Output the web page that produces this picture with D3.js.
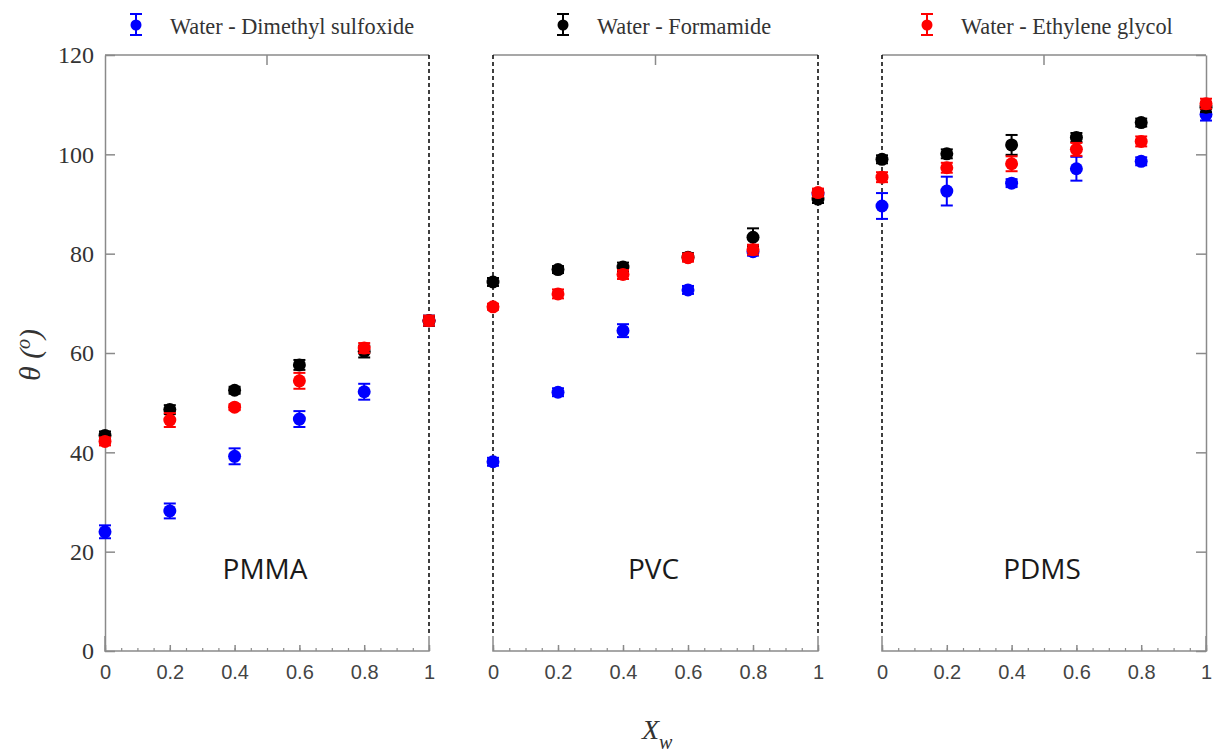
<!DOCTYPE html>
<html><head><meta charset="utf-8">
<script src="https://cdn.jsdelivr.net/npm/d3@7/dist/d3.min.js"></script>
<style>body{margin:0;background:#fff}svg{display:block}</style>
</head><body><svg id="c" width="1217" height="753"></svg>
<script>
// ---- data ----
const xValues = [0, 0.2, 0.4, 0.6, 0.8, 1];
const xTickLabels = ["0", "0.2", "0.4", "0.6", "0.8", "1"];
const yTicks = [0, 20, 40, 60, 80, 100, 120];
const panelNames = ["PMMA", "PVC", "PDMS"];
const seriesNames = ["Water - Dimethyl sulfoxide", "Water - Formamide", "Water - Ethylene glycol"];
const seriesColors = ["#0000ff", "#000000", "#ff0000"];

// values per panel [PMMA, PVC, PDMS]
const dmsoValues = [
  [24.0, 28.2, 39.2, 46.7, 52.2, 66.5],
  [38.1, 52.1, 64.5, 72.7, 80.4, 92.0],
  [89.6, 92.6, 94.2, 97.1, 98.6, 108.0]
];
const dmsoErrors = [
  [1.3, 1.5, 1.6, 1.6, 1.6, 1.0],
  [0.8, 0.8, 1.3, 0.8, 0.8, 0.8],
  [2.6, 2.9, 0.8, 2.4, 0.8, 1.2]
];
const formamideValues = [
  [43.4, 48.6, 52.5, 57.6, 60.3, 66.5],
  [74.3, 76.8, 77.3, 79.3, 83.3, 91.0],
  [99.0, 100.1, 101.9, 103.4, 106.4, 109.5]
];
const formamideErrors = [
  [0.8, 0.9, 0.7, 1.0, 1.2, 1.0],
  [0.8, 0.7, 0.9, 0.8, 1.8, 0.8],
  [0.8, 0.9, 2.0, 0.9, 0.8, 1.0]
];
const egValues = [
  [42.2, 46.5, 49.1, 54.4, 61.0, 66.5],
  [69.3, 71.9, 75.8, 79.2, 80.8, 92.3],
  [95.4, 97.3, 98.1, 101.0, 102.6, 110.2]
];
const egErrors = [
  [0.8, 1.4, 0.6, 1.6, 1.0, 1.0],
  [0.6, 0.9, 0.9, 0.8, 1.0, 0.8],
  [1.0, 1.0, 1.5, 1.3, 1.0, 1.0]
];

// ---- layout ----
const svg = d3.select("#c");
const AX = "#8a8a8a";
const yTop = 55, yBottom = 651;
const panelRanges = [[105, 429], [493, 818], [882, 1206]];
const y = d3.scaleLinear().domain([0, 120]).range([yBottom, yTop]);

const allValues = [dmsoValues, formamideValues, egValues];
const allErrors = [dmsoErrors, formamideErrors, egErrors];

panelRanges.forEach((rg, p) => {
  const x = d3.scaleLinear().domain([0, 1]).range(rg);
  const g = svg.append("g");

  // top border with mid tick
  g.append("line").attr("x1", rg[0]).attr("x2", rg[1]).attr("y1", yTop).attr("y2", yTop)
    .attr("stroke", AX).attr("stroke-width", 1.5);
  g.append("line").attr("x1", x(0.5)).attr("x2", x(0.5)).attr("y1", yTop).attr("y2", yTop + 10)
    .attr("stroke", AX).attr("stroke-width", 1.5);

  // minor bottom ticks
  const minor = g.append("g").attr("transform", `translate(0,${yBottom})`)
    .call(d3.axisBottom(x).tickValues(d3.range(0, 21).map(i => i / 20)).tickSize(-3).tickFormat(""));
  minor.select(".domain").remove();
  minor.selectAll("line").attr("stroke", AX).attr("stroke-width", 1.2);

  // major bottom axis
  const ax = g.append("g").attr("transform", `translate(0,${yBottom})`)
    .call(d3.axisBottom(x).tickValues(xValues).tickSizeInner(-6).tickSizeOuter(0).tickPadding(14)
      .tickFormat((d, i) => xTickLabels[i]));
  ax.select(".domain").attr("stroke", AX).attr("stroke-width", 1.5);
  ax.selectAll("line").attr("stroke", AX).attr("stroke-width", 1.5);
  ax.selectAll("text").attr("font-family", "Liberation Sans, Arial, sans-serif")
    .attr("font-size", 20).attr("fill", "#444");
  ax.select(".domain").attr("d", `M${rg[0]},-15V0H${rg[1]}V-15`);

  // left side
  if (p === 0) {
    const yl = g.append("g").attr("transform", `translate(${rg[0]},0)`)
      .call(d3.axisLeft(y).tickValues(yTicks).tickSizeInner(-10).tickSizeOuter(0).tickPadding(11));
    yl.select(".domain").attr("stroke", AX).attr("stroke-width", 1.5);
    yl.selectAll("line").attr("stroke", AX).attr("stroke-width", 1.5);
    yl.selectAll("text").attr("font-family", "Liberation Serif, Times New Roman, serif")
      .attr("font-size", 24).attr("fill", "#333");
  } else {
    g.append("line").attr("x1", rg[0]).attr("x2", rg[0]).attr("y1", yTop).attr("y2", yBottom - 15)
      .attr("stroke", "#000").attr("stroke-width", 1.5).attr("stroke-dasharray", "4,3");
  }
  // right side
  if (p === 2) {
    const yr = g.append("g").attr("transform", `translate(${rg[1]},0)`)
      .call(d3.axisRight(y).tickValues(yTicks).tickSizeInner(-10).tickSizeOuter(0).tickFormat(""));
    yr.select(".domain").attr("stroke", AX).attr("stroke-width", 1.5);
    yr.selectAll("line").attr("stroke", AX).attr("stroke-width", 1.5);
  } else {
    g.append("line").attr("x1", rg[1]).attr("x2", rg[1]).attr("y1", yTop).attr("y2", yBottom - 15)
      .attr("stroke", "#000").attr("stroke-width", 1.5).attr("stroke-dasharray", "4,3");
  }

  // panel label
  g.append("text").attr("x", (rg[0] + rg[1]) / 2 - 2).attr("y", 579)
    .attr("text-anchor", "middle").attr("font-family", "Open Sans, sans-serif")
    .attr("font-size", 28).attr("fill", "#1a1a1a").text(panelNames[p]);

  // data
  allValues.forEach((sv, s) => {
    const col = seriesColors[s];
    const pts = xValues.map((xv, i) => ({ x: xv, v: sv[p][i], e: allErrors[s][p][i] }));
    const sg = g.append("g");
    const eb = sg.selectAll("g.eb").data(pts).join("g");
    eb.append("line").attr("x1", d => x(d.x)).attr("x2", d => x(d.x))
      .attr("y1", d => y(d.v - d.e)).attr("y2", d => y(d.v + d.e))
      .attr("stroke", col).attr("stroke-width", 2);
    eb.append("line").attr("x1", d => x(d.x) - 6).attr("x2", d => x(d.x) + 6)
      .attr("y1", d => y(d.v + d.e)).attr("y2", d => y(d.v + d.e))
      .attr("stroke", col).attr("stroke-width", 2);
    eb.append("line").attr("x1", d => x(d.x) - 6).attr("x2", d => x(d.x) + 6)
      .attr("y1", d => y(d.v - d.e)).attr("y2", d => y(d.v - d.e))
      .attr("stroke", col).attr("stroke-width", 2);
    sg.selectAll("circle").data(pts).join("circle")
      .attr("cx", d => x(d.x)).attr("cy", d => y(d.v)).attr("r", 6.5).attr("fill", col);
  });
});

// legend
const legendX = [136, 563, 927];
seriesNames.forEach((name, s) => {
  const lg = svg.append("g").attr("transform", `translate(${legendX[s]},25)`);
  const col = seriesColors[s];
  lg.append("line").attr("x1", 0).attr("x2", 0).attr("y1", -11).attr("y2", 10).attr("stroke", col).attr("stroke-width", 2);
  lg.append("line").attr("x1", -6).attr("x2", 6).attr("y1", -11).attr("y2", -11).attr("stroke", col).attr("stroke-width", 2);
  lg.append("line").attr("x1", -6).attr("x2", 6).attr("y1", 10).attr("y2", 10).attr("stroke", col).attr("stroke-width", 2);
  lg.append("circle").attr("r", 5.5).attr("fill", col);
  lg.append("text").attr("x", 34).attr("y", 9).attr("font-family", "Liberation Serif, Times New Roman, serif")
    .attr("font-size", 22.3).attr("fill", "#333").text(name);
});

// axis titles
const yt = svg.append("text").attr("transform", "translate(40,355) rotate(-90)")
  .attr("text-anchor", "middle").attr("font-family", "Liberation Serif, Times New Roman, serif")
  .attr("font-style", "italic").attr("font-size", 30).attr("fill", "#333");
yt.append("tspan").text("θ (");
yt.append("tspan").attr("font-size", 20).attr("dy", -10).text("o");
yt.append("tspan").attr("dy", 10).text(")");

const xt = svg.append("text").attr("x", 642).attr("y", 739)
  .attr("font-family", "Liberation Serif, Times New Roman, serif")
  .attr("font-style", "italic").attr("font-size", 28).attr("fill", "#333");
xt.append("tspan").text("X");
xt.append("tspan").attr("font-size", 20).attr("dy", 10).text("w");
</script></body></html>
